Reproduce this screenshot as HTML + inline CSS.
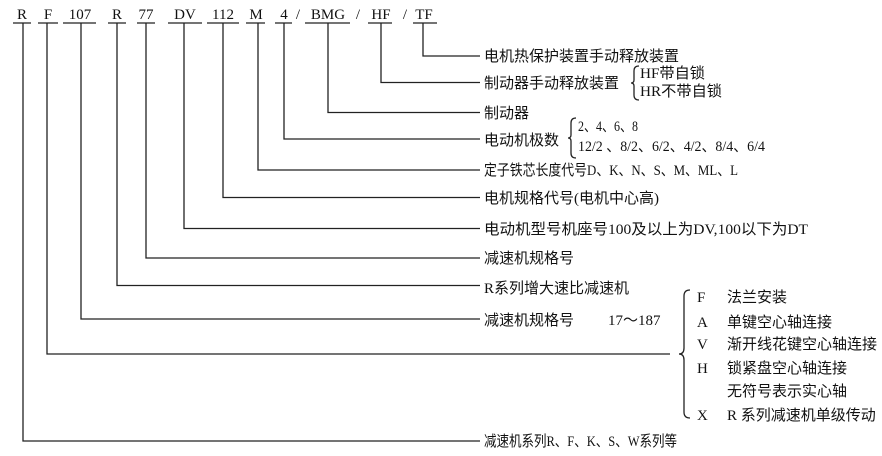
<!DOCTYPE html>
<html><head><meta charset="utf-8"><style>
html,body{margin:0;padding:0;background:#fff}
svg{display:block}
text{font-family:"Liberation Serif","Noto Sans CJK SC",serif;font-size:15px;fill:#111}
.c{font-family:"Liberation Serif","Noto Sans CJK SC",serif;font-size:14.5px}
.t{font-family:"Liberation Serif",serif;font-size:17px}
</style></head><body>
<svg width="882" height="456" viewBox="0 0 882 456" xmlns="http://www.w3.org/2000/svg">
<g fill="none" stroke="#222" stroke-width="1.3">
<path d="M13 23H31M38 23H58M63 23H96M108 23H126M137 23H155M168 23H202M207 23H239M246 23H265M275 23H292M305 23H350M368 23H392M413 23H437"/>
<path d="M423 23V56H480"/>
<path d="M381 23V82.5H480"/>
<path d="M328 23V112.5H480"/>
<path d="M284 23V139H480"/>
<path d="M258 23V170H480"/>
<path d="M223 23V197.5H480"/>
<path d="M184 23V228.5H480"/>
<path d="M146 23V258H480"/>
<path d="M117 23V285.5H480"/>
<path d="M81 23V319H480"/>
<path d="M47 23V354H670"/>
<path d="M23 23V441H480"/>
<path d="M639 66 Q634 66 634 71 V80 Q634 83 631 83 Q634 83 634 86 V95 Q634 100 639 100"/>
<path d="M576 118 Q571 118 571 123 V135 Q571 138 568 138 Q571 138 571 141 V153 Q571 158 576 158"/>
<path d="M690 290 Q684 290 684 296 V348 Q684 354 679 354 Q684 354 684 360 V412 Q684 418 690 418"/>
</g>
<g class="t">
<text x="22" y="19" text-anchor="middle">R</text>
<text x="48" y="19" text-anchor="middle">F</text>
<text x="80" y="19" text-anchor="middle">107</text>
<text x="117" y="19" text-anchor="middle">R</text>
<text x="146" y="19" text-anchor="middle">77</text>
<text x="185" y="19" text-anchor="middle">DV</text>
<text x="223" y="19" text-anchor="middle">112</text>
<text x="256" y="19" text-anchor="middle">M</text>
<text x="284" y="19" text-anchor="middle">4</text>
<text x="298" y="19" text-anchor="middle">/</text>
<text x="328" y="19" text-anchor="middle">BMG</text>
<text x="358" y="19" text-anchor="middle">/</text>
<text x="381" y="19" text-anchor="middle">HF</text>
<text x="405" y="19" text-anchor="middle">/</text>
<text x="424" y="19" text-anchor="middle">TF</text>
</g>
<g class="c">
<text x="484" y="61">电机热保护装置手动释放装置</text>
<text x="484" y="88">制动器手动释放装置</text>
<text x="640" y="78" textLength="65" lengthAdjust="spacingAndGlyphs">HF带自锁</text>
<text x="640" y="96" textLength="82" lengthAdjust="spacingAndGlyphs">HR不带自锁</text>
<text x="484" y="118">制动器</text>
<text x="484" y="145">电动机极数</text>
<text x="578" y="131" textLength="60" lengthAdjust="spacingAndGlyphs">2、4、6、8</text>
<text x="578" y="151" textLength="187" lengthAdjust="spacingAndGlyphs">12/2 、8/2、6/2、4/2、8/4、6/4</text>
<text x="484" y="175" textLength="254" lengthAdjust="spacingAndGlyphs">定子铁芯长度代号D、K、N、S、M、ML、L</text>
<text x="484" y="203">电机规格代号(电机中心高)</text>
<text x="484" y="234" textLength="324" lengthAdjust="spacingAndGlyphs">电动机型号机座号100及以上为DV,100以下为DT</text>
<text x="484" y="263">减速机规格号</text>
<text x="484" y="293">R系列增大速比减速机</text>
<text x="484" y="325">减速机规格号</text>
<text x="608" y="325">17～187</text>
<text x="697" y="302">F</text><text x="727" y="302">法兰安装</text>
<text x="697" y="327">A</text><text x="727" y="327">单键空心轴连接</text>
<text x="697" y="349">V</text><text x="727" y="349">渐开线花键空心轴连接</text>
<text x="697" y="373">H</text><text x="727" y="373">锁紧盘空心轴连接</text>
<text x="727" y="396">无符号表示实心轴</text>
<text x="697" y="420">X</text><text x="727" y="420">R 系列减速机单级传动</text>
<text x="484" y="446" textLength="193" lengthAdjust="spacingAndGlyphs">减速机系列R、F、K、S、W系列等</text>
</g>
</svg>
</body></html>
